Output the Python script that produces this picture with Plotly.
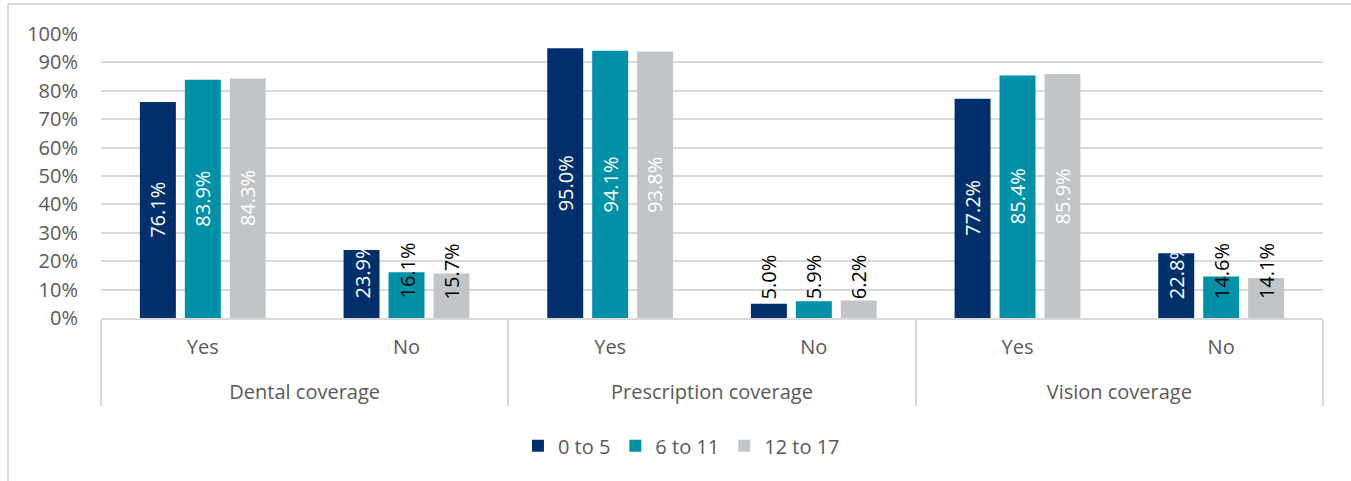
import plotly.graph_objects as go

# ---- data ----
groups = ["Dental coverage", "Dental coverage",
          "Prescription coverage", "Prescription coverage",
          "Vision coverage", "Vision coverage"]
answers = ["Yes", "No", "Yes", "No", "Yes", "No"]
series_names = ["0 to 5", "6 to 11", "12 to 17"]
age_0_5 = [76.1, 23.9, 95.0, 5.0, 77.2, 22.8]
age_6_11 = [83.9, 16.1, 94.1, 5.9, 85.4, 14.6]
age_12_17 = [84.3, 15.7, 93.8, 6.2, 85.9, 14.1]
y_tick_values = [0, 10, 20, 30, 40, 50, 60, 70, 80, 90, 100]
y_tick_labels = [f"{v}%" for v in y_tick_values]

# ---- styles ----
bar_colors = ["#00306B", "#0090A8", "#C2C5C8"]
W, K = "#FFFFFF", "#000000"
label_colors = [
    [W, W, W, K, W, W],
    [W, K, W, K, W, K],
    [W, K, W, K, W, K],
]
FONT = "'Open Sans', Lato, sans-serif"
GREY_TXT = "#595959"
GRID = "#D9D9D9"
BARGAP = 0.338
BARGROUPGAP = 0.2

series_values = [age_0_5, age_6_11, age_12_17]
# outer labels get an empty first line so the outer row sits lower (as in the source)
outer_labels = ["<br>" + g for g in groups]

fig = go.Figure()
for name, vals, col in zip(series_names, series_values, bar_colors):
    fig.add_trace(go.Bar(
        x=[outer_labels, answers], y=vals, name=name,
        marker=dict(color=col, line=dict(width=0)),
    ))

# rotated value labels
slot = (1 - BARGAP) / len(series_values)
annotations = []
for j, vals in enumerate(series_values):
    for i, v in enumerate(vals):
        xpos = i + (j - (len(series_values) - 1) / 2) * slot
        if v / 2 >= 17:
            ya, yv, ys = "middle", v / 2, 0
        else:
            ya, yv, ys = "bottom", 0, 17
        annotations.append(dict(
            x=xpos, y=yv, xref="x", yref="y", text=f"{v:.1f}%",
            showarrow=False, textangle=-90, yanchor=ya, xanchor="center",
            yshift=ys, font=dict(family=FONT, size=20, color=label_colors[j][i]),
        ))

fig.update_layout(
    width=1351, height=481,
    margin=dict(l=101, r=28, t=34, b=163, pad=0),
    paper_bgcolor="white", plot_bgcolor="white",
    barmode="group", bargap=BARGAP, bargroupgap=BARGROUPGAP,
    font=dict(family=FONT, size=20, color=GREY_TXT),
    showlegend=True,
    legend=dict(orientation="h", x=0.475, xanchor="center", y=-0.45, yanchor="middle",
                font=dict(family=FONT, size=20, color=GREY_TXT),
                itemwidth=30, traceorder="normal"),
    annotations=annotations,
    shapes=[
        # outer chart frame (top and left edges visible)
        dict(type="line", xref="paper", yref="paper", x0=-0.0761, x1=1.05, y0=1.1056, y1=1.1056,
             line=dict(color=GRID, width=2)),
        dict(type="line", xref="paper", yref="paper", x0=-0.0761, x1=-0.0761, y0=1.1056, y1=-0.6,
             line=dict(color=GRID, width=2)),
    ],
)
fig.update_yaxes(
    range=[0, 100], tickvals=y_tick_values, ticktext=y_tick_labels,
    showgrid=True, gridcolor=GRID, gridwidth=1.5,
    zeroline=False, showline=False, ticks="", ticklabelstandoff=22,
    tickfont=dict(family=FONT, size=20, color=GREY_TXT),
)
fig.update_xaxes(
    type="multicategory", showline=True, linecolor=GRID, linewidth=1.5,
    showdividers=True, dividercolor=GRID, dividerwidth=1.5,
    ticks="", ticklabelstandoff=10,
    tickfont=dict(family=FONT, size=20, color=GREY_TXT),
)

fig.write_html("out.html", config={"displayModeBar": False},
               post_script="document.body.style.margin='0';")
